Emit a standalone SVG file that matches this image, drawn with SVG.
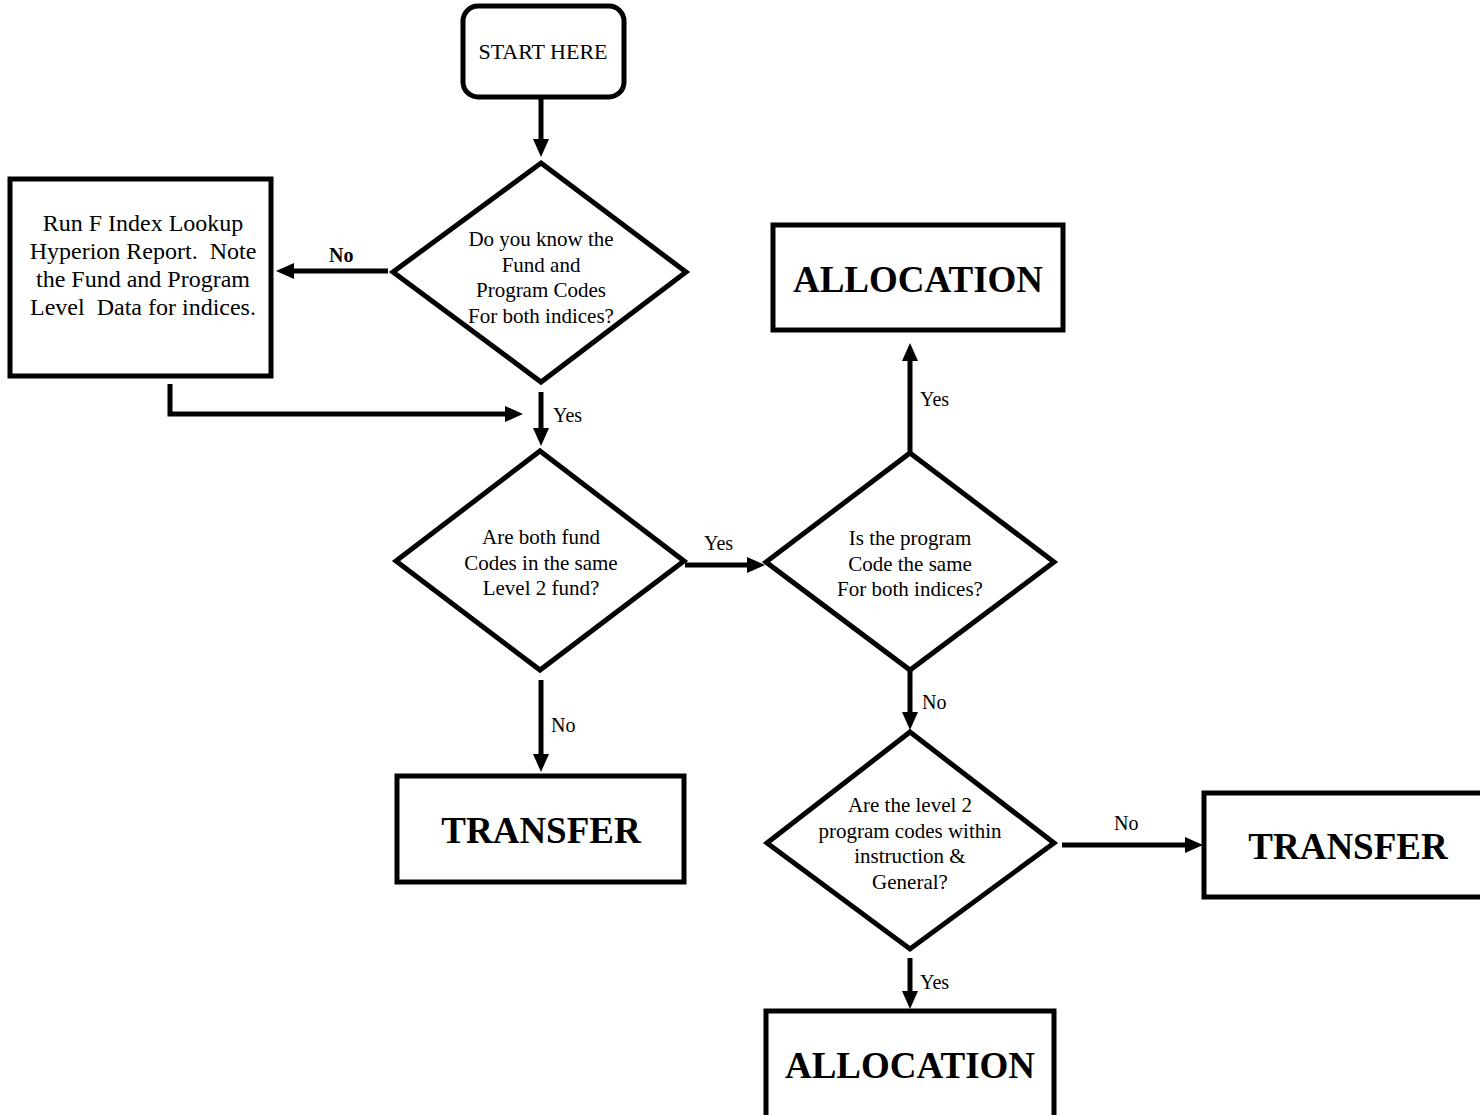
<svg xmlns="http://www.w3.org/2000/svg" width="1480" height="1115" viewBox="0 0 1480 1115">
<style>
.shape{fill:#fff;stroke:#000;stroke-width:5;stroke-linejoin:miter}
.conn{fill:none;stroke:#000;stroke-width:5}
.t{font-family:"Liberation Serif","Times New Roman",serif;fill:#000;text-anchor:middle}
.d{font-size:21px}
.big{font-size:37px;font-weight:bold}
.lbl{font-family:"Liberation Serif","Times New Roman",serif;font-size:20px;fill:#000}
</style>
<defs>
<marker id="ah" markerUnits="userSpaceOnUse" markerWidth="20" markerHeight="18" refX="4" refY="8" orient="auto">
<path d="M0,0 L18,8 L0,16 z" fill="#000"/>
</marker>
</defs>
<rect width="1480" height="1115" fill="#fff"/>
<g id="connectors">
<line class="conn" x1="541" y1="98" x2="541" y2="143" marker-end="url(#ah)"/>
<line class="conn" x1="388" y1="271" x2="290" y2="271" marker-end="url(#ah)"/>
<path class="conn" d="M170,384 V414 H509" marker-end="url(#ah)"/>
<line class="conn" x1="541" y1="392" x2="541" y2="432" marker-end="url(#ah)"/>
<line class="conn" x1="685" y1="565" x2="751" y2="565" marker-end="url(#ah)"/>
<line class="conn" x1="541" y1="680" x2="541" y2="758" marker-end="url(#ah)"/>
<line class="conn" x1="910" y1="452" x2="910" y2="357" marker-end="url(#ah)"/>
<line class="conn" x1="910" y1="670" x2="910" y2="716" marker-end="url(#ah)"/>
<line class="conn" x1="1062" y1="845" x2="1189" y2="845" marker-end="url(#ah)"/>
<line class="conn" x1="910" y1="958" x2="910" y2="995" marker-end="url(#ah)"/>
<text class="lbl" x="329" y="262" font-weight="bold" font-size="21">No</text>
<text class="lbl" x="553" y="422">Yes</text>
<text class="lbl" x="704" y="550">Yes</text>
<text class="lbl" x="551" y="732">No</text>
<text class="lbl" x="920" y="406">Yes</text>
<text class="lbl" x="922" y="709">No</text>
<text class="lbl" x="1114" y="830">No</text>
<text class="lbl" x="920" y="989">Yes</text>
</g>
<g id="start">
<rect class="shape" x="463" y="6" width="161" height="91" rx="15"/>
<text class="t" x="543" y="59" font-size="22">START HERE</text>
</g>
<g id="run-report">
<rect class="shape" x="10" y="179" width="261" height="197"/>
<text class="t" x="143" y="231" font-size="24" xml:space="preserve"><tspan x="143">Run F Index Lookup</tspan><tspan x="143" dy="28">Hyperion Report.  Note</tspan><tspan x="143" dy="28">the Fund and Program</tspan><tspan x="143" dy="28">Level  Data for indices.</tspan></text>
</g>
<g id="q-know-codes">
<polygon class="shape" points="541,163 686,272 541,382 393,272"/>
<text class="t d" x="541" y="246"><tspan x="541">Do you know the</tspan><tspan x="541" dy="25.5">Fund and</tspan><tspan x="541" dy="25.5">Program Codes</tspan><tspan x="541" dy="25.5">For both indices?</tspan></text>
</g>
<g id="q-same-fund">
<polygon class="shape" points="540,451 684,561 540,670 396,561"/>
<text class="t d" x="541" y="544"><tspan x="541">Are both fund</tspan><tspan x="541" dy="25.5">Codes in the same</tspan><tspan x="541" dy="25.5">Level 2 fund?</tspan></text>
</g>
<g id="transfer-left">
<rect class="shape" x="397" y="776" width="287" height="106"/>
<text class="t big" x="541" y="843">TRANSFER</text>
</g>
<g id="q-same-program">
<polygon class="shape" points="910,453 1054,562 910,670 766,562"/>
<text class="t d" x="910" y="545"><tspan x="910">Is the program</tspan><tspan x="910" dy="25.5">Code the same</tspan><tspan x="910" dy="25.5">For both indices?</tspan></text>
</g>
<g id="allocation-top">
<rect class="shape" x="773" y="225" width="290" height="105"/>
<text class="t big" x="918" y="292">ALLOCATION</text>
</g>
<g id="q-level2">
<polygon class="shape" points="910,732 1054,843 910,949 767,843"/>
<text class="t d" x="910" y="812"><tspan x="910">Are the level 2</tspan><tspan x="910" dy="25.5">program codes within</tspan><tspan x="910" dy="25.5">instruction &amp;</tspan><tspan x="910" dy="25.5">General?</tspan></text>
</g>
<g id="transfer-right">
<rect class="shape" x="1204" y="793" width="280" height="104"/>
<text class="t big" x="1348" y="859">TRANSFER</text>
</g>
<g id="allocation-bottom">
<rect class="shape" x="766" y="1011" width="288" height="110"/>
<text class="t big" x="910" y="1078">ALLOCATION</text>
</g>
</svg>
